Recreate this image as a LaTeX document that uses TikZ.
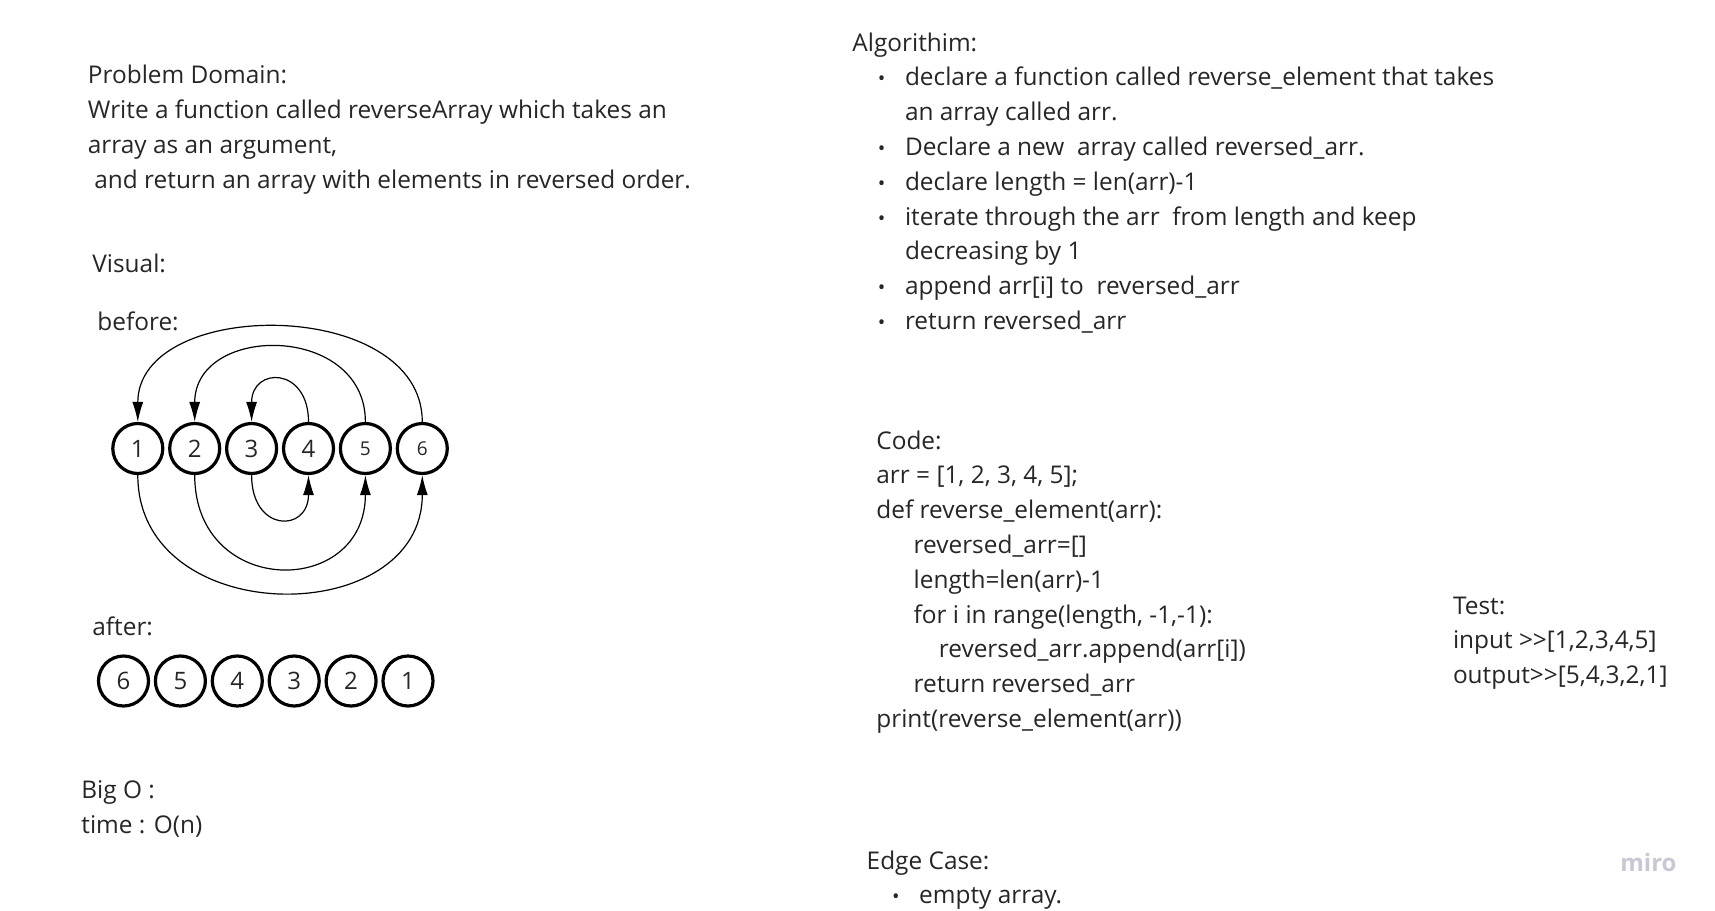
\documentclass[tikz,border=0pt]{standalone}
\usepackage{fontspec}
\setmainfont{Open Sans}
\usetikzlibrary{arrows.meta}

\definecolor{inkgray}{RGB}{38,38,38}
\definecolor{mirogray}{RGB}{200,200,212}

\begin{document}
\begin{tikzpicture}[x=0.5pt,y=-0.5pt,
  txt/.style={anchor=base west, inner sep=0pt, text=inkgray, font=\fontsize{12.2}{14}\selectfont},
  dot/.style={anchor=base, inner sep=0pt, text=inkgray, font=\fontsize{10}{12}\selectfont},
  elem/.style={draw, circle, line width=1.6pt, minimum size=25pt, inner sep=0pt, text=inkgray, font=\fontsize{12}{14}\selectfont},
  swap/.style={-{Latex[length=10pt,width=5.5pt]}, line width=0.6pt}]
\useasboundingbox (0,0) rectangle (1715,911);

% problem domain
\node[txt] (probhead) at (87.5,83) {Problem Domain:};
\node[txt] (proba) at (87.5,118) {Write a function called reverseArray which takes an};
\node[txt] (probb) at (87.5,153) {array as an argument,};
\node[txt] (probc) at (94,188) {and return an array with elements in reversed order.};

% visual
\node[txt] (visual) at (92,272) {Visual:};
\node[txt] (before) at (97,330) {before:};
\node[elem] (a1) at (137.8,448.5) {1};
\node[elem] (a2) at (194.7,448.5) {2};
\node[elem] (a3) at (251.6,448.5) {3};
\node[elem] (a4) at (308.5,448.5) {4};
\node[elem, font=\fontsize{9.5}{11}\selectfont] (a5) at (365.4,448.5) {5};
\node[elem, font=\fontsize{9.5}{11}\selectfont] (a6) at (422.3,448.5) {6};

\draw[swap] (a6.north) to[out=90,in=90,looseness=1.13] (a1.north); % outer swap
\draw[swap] (a5.north) to[out=90,in=90,looseness=1.48] (a2.north);
\draw[swap] (a4.north) to[out=90,in=90,looseness=2.5] (a3.north); % inner swap
\draw[swap] (a3.south) to[out=-90,in=-90,looseness=2.6] (a4.south);
\draw[swap] (a2.south) to[out=-90,in=-90,looseness=1.85] (a5.south);
\draw[swap] (a1.south) to[out=-90,in=-90,looseness=1.4] (a6.south);

\node[txt] (after) at (92,635) {after:};
\node[elem] (b6) at (123.5,681) {6};
\node[elem] (b5) at (180.4,681) {5};
\node[elem] (b4) at (237.3,681) {4};
\node[elem] (b3) at (294.2,681) {3};
\node[elem] (b2) at (351.1,681) {2};
\node[elem] (b1) at (408,681) {1};

% big o
\node[txt] (bigo) at (81,798) {Big O :};
\node[txt] (timeo) at (81,833) {time : O(n)};

% algorithm
\node[txt] (alghead) at (852,51) {Algorithim:};
\node[dot] (dota) at (881.6,85.8) {•};
\node[txt] (alga) at (904.6,85.8) {declare a function called reverse\_element that takes};
\node[txt] (algb) at (904.6,120.6) {an array called arr.};
\node[dot] (dotc) at (881.6,155.4) {•};
\node[txt] (algc) at (904.6,155.4) {Declare a new\ \ array called reversed\_arr.};
\node[dot] (dotd) at (881.6,190.2) {•};
\node[txt] (algd) at (904.6,190.2) {declare length = len(arr)-1};
\node[dot] (dote) at (881.6,225) {•};
\node[txt] (alge) at (904.6,225) {iterate through the arr\ \ from length and keep};
\node[txt] (algf) at (904.6,259.8) {decreasing by 1};
\node[dot] (dotg) at (881.6,294.6) {•};
\node[txt] (algg) at (904.6,294.6) {append arr[i] to\ \ reversed\_arr};
\node[dot] (doth) at (881.6,329.4) {•};
\node[txt] (algh) at (904.6,329.4) {return reversed\_arr};

% code
\node[txt] (codehead) at (876,449) {Code:};
\node[txt] (codea) at (876,483.8) {arr = [1, 2, 3, 4, 5];};
\node[txt] (codeb) at (876,518.6) {def reverse\_element(arr):};
\node[txt] (codec) at (913.3,553.4) {reversed\_arr=[]};
\node[txt] (coded) at (913.3,588.2) {length=len(arr)-1};
\node[txt] (codee) at (913.3,623) {for i in range(length, -1,-1):};
\node[txt] (codef) at (938.5,657.8) {reversed\_arr.append(arr[i])};
\node[txt] (codeg) at (913.3,692.6) {return reversed\_arr};
\node[txt] (codeh) at (876,727.4) {print(reverse\_element(arr))};

% test
\node[txt] (testhead) at (1452.6,614) {Test:};
\node[txt] (testin) at (1452.6,648.8) {input >\kern0pt>[1,2,3,4,5]};
\node[txt] (testout) at (1452.6,683.6) {output>\kern0pt>[5,4,3,2,1]};

% edge case
\node[txt] (edgehead) at (866.3,869) {Edge Case:};
\node[dot] (dotedge) at (895.8,903.8) {•};
\node[txt] (edgea) at (918.8,903.8) {empty array.};

\node[txt, text=mirogray, font=\fontsize{12}{14}\bfseries] (miro) at (1620,871) {miro};
\end{tikzpicture}
\end{document}
